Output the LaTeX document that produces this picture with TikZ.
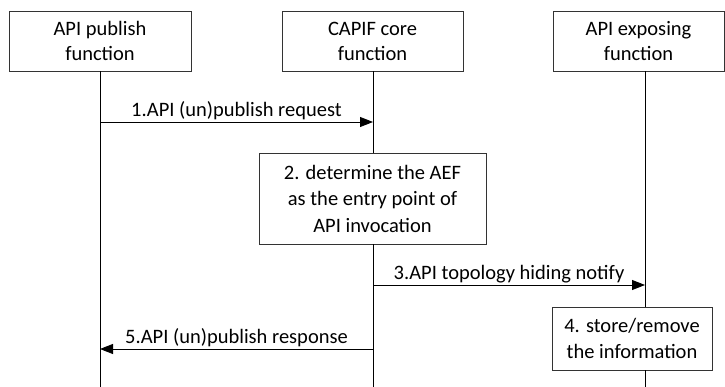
\documentclass[tikz,border=0pt]{standalone}
\usepackage{fontspec}
\setmainfont{Carlito}
\usepackage{tikz}
\usetikzlibrary{arrows.meta}
\tikzset{
  seqentity/.style={draw=black!80, line width=0.9pt, align=center,
    inner sep=2pt, font=\fontsize{20.5}{25}\selectfont},
  seqstep/.style={seqentity, font=\fontsize{20.5}{26.5}\selectfont},
  seqlife/.style={line width=1pt, draw=black},
  seqmsg/.style={-{Triangle[length=13pt, width=10pt]}, line width=0.9pt,
    draw=black},
  seqlabel/.style={font=\fontsize{20.5}{22}\selectfont, inner sep=2pt}
}

\begin{document}
\begin{tikzpicture}[x=1pt, y=-1pt]
  \useasboundingbox (0,0) rectangle (725,387);

  % participants
  \node[seqentity, minimum width=182pt, minimum height=60pt] (apf)
    at (100,41) {API publish\\function};
  \node[seqentity, minimum width=181pt, minimum height=60pt] (ccf)
    at (372.5,41) {CAPIF core\\function};
  \node[seqentity, minimum width=171pt, minimum height=60pt] (aef)
    at (638.5,41) {API exposing\\function};

  % lifeline ends and message rows
  \coordinate (apfbot) at (100,387);
  \coordinate (ccfbot) at (373,387);
  \coordinate (aefbot) at (645,387);
  \coordinate (m1) at (0,122);
  \coordinate (m3) at (0,285);
  \coordinate (m5) at (0,349);

  % local steps
  \node[seqstep, minimum width=227pt, minimum height=91pt] (detaef)
    at (372.5,198.5) {2. determine the AEF\\as the entry point of\\API invocation};
  \node[seqstep, minimum width=160pt, minimum height=63pt] (store)
    at (632,338.5) {4. store/remove\\the information};

  % lifelines
  \draw[seqlife] (apf.south -| apfbot) -- (apfbot);
  \draw[seqlife] (ccf.south -| ccfbot) -- (detaef.north -| ccfbot);
  \draw[seqlife] (detaef.south -| ccfbot) -- (ccfbot);
  \draw[seqlife] (aef.south -| aefbot) -- (store.north -| aefbot);
  \draw[seqlife] (store.south -| aefbot) -- (aefbot);

  % messages
  \draw[seqmsg] (m1 -| apfbot) -- node[seqlabel, above]
    {1.API (un)publish request} (m1 -| ccfbot);
  \draw[seqmsg] (m3 -| ccfbot) -- node[seqlabel, above]
    {3.API topology hiding notify} (m3 -| aefbot);
  \draw[seqmsg] (m5 -| ccfbot) -- node[seqlabel, above]
    {5.API (un)publish response} (m5 -| apfbot);
\end{tikzpicture}
\end{document}
